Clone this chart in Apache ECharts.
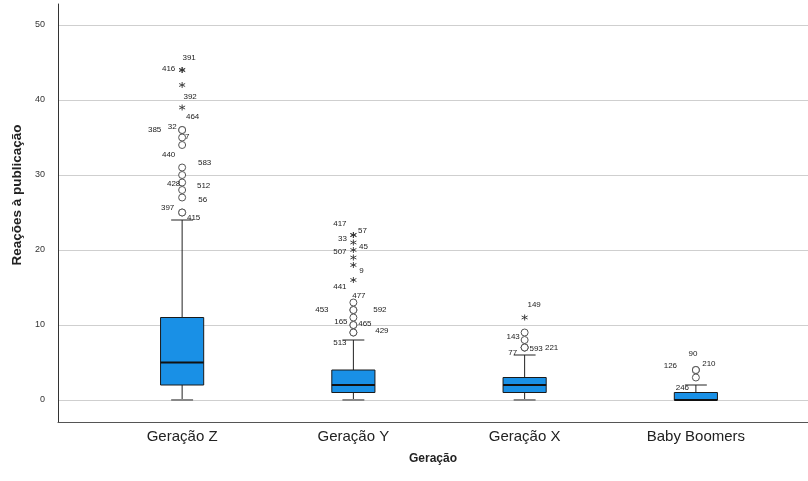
<!DOCTYPE html>
<html><head><meta charset="utf-8">
<script src="https://cdn.jsdelivr.net/npm/echarts@6/dist/echarts.min.js"></script>
<style>html,body{margin:0;padding:0;background:#fff}#c{width:808px;height:481px}</style>
</head><body><div id="c"></div>
<script>
const categories = ['Geração Z', 'Geração Y', 'Geração X', 'Baby Boomers'];
const yTicks = [0, 10, 20, 30, 40, 50];
const whiskerLow = [0, 0, 0, 0];
const quartile1 = [2, 1, 1, 0];
const medians = [5, 2, 2, 0];
const quartile3 = [11, 4, 3, 1];
const whiskerHigh = [24, 8, 6, 2];

// outliers: group index, value, case number, extreme (*) or not (o)
const outlierGroup = [0,0,0,0,0,0,0,0,0,0,0,0,0,0,0, 1,1,1,1,1,1,1,1,1,1,1,1,1,1,1, 2,2,2,2,2,2, 3,3,3,3];
const outlierValue = [44,44,42,39,36,36,35,34,31,30,29,28,27,25,25, 22,22,21,20,19,18,16,13,12,12,11,10,10,9,9, 11,9,8,7,7,7, 4,4,4,3];
const outlierCase = ['391','416','392','464','385','32','7','','440','583','428','512','56','397','415',
  '417','57','33','45','507','9','441','477','453','592','','165','465','429','513',
  '149','143','','593','221','77',
  '90','126','210','246'];
const outlierExtreme = [1,1,1,1,0,0,0,0,0,0,0,0,0,0,0, 1,1,1,1,1,1,1,0,0,0,0,0,0,0,0, 1,0,0,0,0,0, 0,0,0,0];
// layout only: label offset (px) from its point
const labelOffset = [[7,-12],[-13.5,-1],[8,12],[10.5,9],[-27.5,0],[-10,-3],[5,-1],[0,0],[-13.5,-12.5],[22.5,-12],[-8.5,1.5],[21.5,-4],[20.5,2.5],[-14.5,-4.5],[11.5,5.5],
  [-13.5,-11],[9,-4.3],[-11,-4],[10,-3],[-13.5,-6],[8,5.7],[-13.5,7],[5.5,-6.5],[-31.5,-0.7],[26.5,0],[0,0],[-12.5,-3.3],[11.5,-1.7],[28.5,-2],[-13.5,10],
  [9.5,-13],[-11.5,4],[0,0],[11.5,1],[27,0],[-12,5],
  [-3,-16.7],[-25.5,-4.3],[13,-6],[-13.5,10]];

const Y_MIN = -2.933, Y_MAX = 52.8;
const FONT = 'Liberation Sans, Arial, sans-serif';

const boxData = categories.map((c, i) => [i, whiskerLow[i], quartile1[i], medians[i], quartile3[i], whiskerHigh[i]]);

function outlierItems(extreme) {
  const out = [];
  outlierValue.forEach((v, k) => {
    if (outlierExtreme[k] !== extreme) return;
    out.push({
      value: [outlierGroup[k], v, outlierCase[k]],
      label: { show: outlierCase[k] !== '', formatter: outlierCase[k], offset: labelOffset[k] }
    });
  });
  return out;
}

const outlierLabel = {
  position: 'inside', align: 'center', verticalAlign: 'middle',
  color: '#222', fontSize: 8, fontFamily: FONT
};

const chart = echarts.init(document.getElementById('c'), null, { renderer: 'canvas' });
chart.setOption({
  backgroundColor: '#fff',
  animation: false,
  grid: [
    { left: 58, right: 0, top: 4, bottom: 59 },
    { left: 96.5, right: 26.5, top: 4, bottom: 59 }
  ],
  xAxis: [
    { gridIndex: 0, type: 'value', min: 0, max: 1,
      axisLine: { show: true, onZero: false, lineStyle: { color: '#555', width: 1 } },
      axisTick: { show: false }, axisLabel: { show: false }, splitLine: { show: false },
      name: 'Geração', nameLocation: 'middle', nameGap: 31,
      nameTextStyle: { fontWeight: 'bold', fontSize: 12, color: '#222', fontFamily: FONT } },
    { gridIndex: 1, type: 'category', data: categories, boundaryGap: true,
      axisLine: { show: false }, axisTick: { show: false },
      axisLabel: { margin: 7, fontSize: 15, color: '#222', fontFamily: FONT } }
  ],
  yAxis: [
    { gridIndex: 0, type: 'value', min: Y_MIN, max: Y_MAX,
      axisLine: { show: true, onZero: false, lineStyle: { color: '#333', width: 1 } },
      axisTick: { show: false },
      axisLabel: { margin: 13, fontSize: 9, color: '#333', fontFamily: FONT,
        showMinLabel: false, showMaxLabel: false,
        formatter: v => yTicks.includes(Math.round(v * 1000) / 1000) ? String(v) : '' },
      splitLine: { show: true, showMinLine: false, showMaxLine: false, lineStyle: { color: '#cfcfcf', width: 1 } },
      name: 'Reações à publicação', nameLocation: 'middle', nameGap: 32,
      nameTextStyle: { fontWeight: 'bold', fontSize: 13.5, color: '#222', fontFamily: FONT, padding: [0, 0, 0, 36] } },
    { gridIndex: 1, type: 'value', min: Y_MIN, max: Y_MAX, show: false, splitLine: { show: false } }
  ],
  series: [
    {
      type: 'custom', xAxisIndex: 1, yAxisIndex: 1, data: boxData,
      renderItem: function (params, api) {
        const i = api.value(0);
        const pLow = api.coord([i, api.value(1)]);
        const pQ1 = api.coord([i, api.value(2)]);
        const pMed = api.coord([i, api.value(3)]);
        const pQ3 = api.coord([i, api.value(4)]);
        const pHigh = api.coord([i, api.value(5)]);
        const band = api.size([1, 0])[0];
        const hw = band * 0.126;
        const cw = band * 0.064;
        const x = pQ1[0];
        const ls = { stroke: '#222', lineWidth: 1 };
        return {
          type: 'group',
          children: [
            { type: 'line', shape: { x1: x, y1: pHigh[1], x2: x, y2: pQ3[1] }, style: ls },
            { type: 'line', shape: { x1: x, y1: pQ1[1], x2: x, y2: pLow[1] }, style: ls },
            { type: 'line', shape: { x1: x - cw, y1: pHigh[1], x2: x + cw, y2: pHigh[1] }, style: ls },
            { type: 'line', shape: { x1: x - cw, y1: pLow[1], x2: x + cw, y2: pLow[1] }, style: { stroke: '#888', lineWidth: 2 } },
            { type: 'rect', shape: { x: x - hw, y: pQ3[1], width: hw * 2, height: pQ1[1] - pQ3[1] },
              style: { fill: '#1990e6', stroke: '#1a1a1a', lineWidth: 1 } },
            { type: 'line', shape: { x1: x - hw, y1: pMed[1], x2: x + hw, y2: pMed[1] }, style: { stroke: '#111', lineWidth: 2 } }
          ]
        };
      }
    },
    {
      type: 'scatter', xAxisIndex: 1, yAxisIndex: 1, name: 'outliers',
      symbol: 'circle', symbolSize: 7,
      itemStyle: { color: '#fff', borderColor: '#555', borderWidth: 1, opacity: 1 },
      label: outlierLabel,
      data: outlierItems(0)
    },
    {
      type: 'scatter', xAxisIndex: 1, yAxisIndex: 1, name: 'extremes',
      symbol: 'path://M5,0L5,10M0.67,2.5L9.33,7.5M0.67,7.5L9.33,2.5', symbolSize: [6, 6],
      itemStyle: { color: 'rgba(0,0,0,0)', borderColor: '#333', borderWidth: 0.9, opacity: 1 },
      label: outlierLabel,
      data: outlierItems(1)
    }
  ]
});
</script></body></html>
